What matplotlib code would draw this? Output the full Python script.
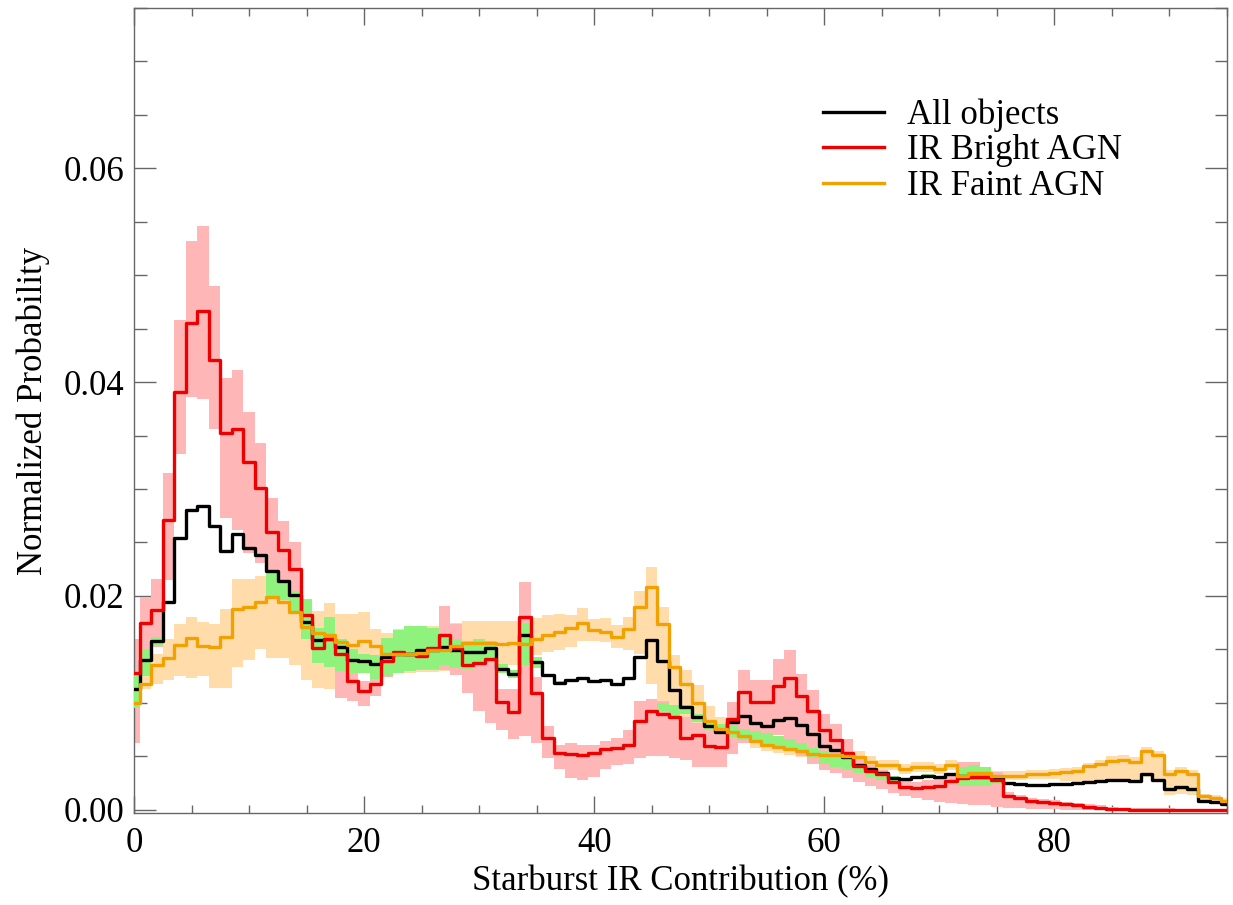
import numpy as np
import matplotlib
matplotlib.use("Agg")
import matplotlib.pyplot as plt
from matplotlib.ticker import MultipleLocator, FormatStrFormatter

# bin centres: starburst contribution in percent, 1% bins
sb_pct = np.arange(96)

all_objects = [
    0.0113, 0.0140, 0.0158, 0.0194, 0.0254, 0.0280, 0.0284, 0.0265, 0.0242, 0.0258,
    0.0245, 0.0238, 0.0223, 0.0214, 0.0201, 0.0176, 0.0159, 0.0160, 0.0152, 0.0140,
    0.0139, 0.0136, 0.0143, 0.0146, 0.0146, 0.0149, 0.0149, 0.0152, 0.0149, 0.0148,
    0.0148, 0.0151, 0.0132, 0.0127, 0.0163, 0.0138, 0.0126, 0.0119, 0.0121, 0.0123,
    0.0120, 0.0121, 0.0118, 0.0123, 0.0143, 0.0159, 0.0139, 0.0112, 0.0096, 0.0087,
    0.0078, 0.0073, 0.0082, 0.0088, 0.0081, 0.0078, 0.0084, 0.0086, 0.0079, 0.0071,
    0.0060, 0.0056, 0.0049, 0.0042, 0.0038, 0.0034, 0.0030, 0.0029, 0.0031, 0.0032,
    0.0031, 0.0033, 0.0032, 0.0031, 0.0031, 0.0030, 0.0025, 0.0024, 0.0023, 0.0023,
    0.0024, 0.0024, 0.0025, 0.0026, 0.0027, 0.0028, 0.0028, 0.0027, 0.0033, 0.0028,
    0.0019, 0.0021, 0.0019, 0.0008, 0.0007, 0.0005]
all_lo = [
    0.0095, 0.0125, 0.0154, 0.0193, 0.0253, 0.0279, 0.0283, 0.0264, 0.0241, 0.0257,
    0.0244, 0.0237, 0.0200, 0.0196, 0.0185, 0.0160, 0.0137, 0.0134, 0.0130, 0.0128,
    0.0128, 0.0122, 0.0125, 0.0128, 0.0130, 0.0132, 0.0132, 0.0135, 0.0133, 0.0132,
    0.0135, 0.0138, 0.0128, 0.0123, 0.0135, 0.0133, 0.0125, 0.0118, 0.0120, 0.0122,
    0.0119, 0.0120, 0.0117, 0.0122, 0.0142, 0.0158, 0.0092, 0.0088, 0.0090, 0.0082,
    0.0075, 0.0071, 0.0068, 0.0065, 0.0062, 0.0061, 0.0058, 0.0055, 0.0052, 0.0048,
    0.0043, 0.0040, 0.0037, 0.0034, 0.0031, 0.0028, 0.0026, 0.0028, 0.0030, 0.0031,
    0.0030, 0.0032, 0.0022, 0.0022, 0.0022, 0.0024, 0.0024, 0.0023, 0.0022, 0.0022,
    0.0023, 0.0023, 0.0024, 0.0025, 0.0026, 0.0027, 0.0027, 0.0026, 0.0032, 0.0027,
    0.0018, 0.0020, 0.0018, 0.0007, 0.0006, 0.0004]
all_hi = [
    0.0128, 0.0150, 0.0162, 0.0195, 0.0255, 0.0281, 0.0285, 0.0266, 0.0243, 0.0259,
    0.0246, 0.0239, 0.0225, 0.0216, 0.0205, 0.0196, 0.0170, 0.0180, 0.0160, 0.0150,
    0.0146, 0.0145, 0.0161, 0.0168, 0.0172, 0.0172, 0.0170, 0.0165, 0.0160, 0.0158,
    0.0160, 0.0158, 0.0136, 0.0131, 0.0175, 0.0143, 0.0127, 0.0120, 0.0122, 0.0124,
    0.0121, 0.0122, 0.0119, 0.0124, 0.0144, 0.0160, 0.0100, 0.0098, 0.0098, 0.0090,
    0.0082, 0.0080, 0.0078, 0.0076, 0.0074, 0.0072, 0.0069, 0.0066, 0.0062, 0.0058,
    0.0055, 0.0053, 0.0050, 0.0044, 0.0040, 0.0036, 0.0032, 0.0030, 0.0032, 0.0033,
    0.0032, 0.0034, 0.0040, 0.0042, 0.0040, 0.0032, 0.0026, 0.0025, 0.0024, 0.0024,
    0.0025, 0.0025, 0.0026, 0.0027, 0.0028, 0.0029, 0.0029, 0.0028, 0.0034, 0.0029,
    0.0020, 0.0022, 0.0020, 0.0009, 0.0008, 0.0006]

ir_bright = [
    0.0128, 0.0175, 0.0187, 0.0271, 0.0391, 0.0455, 0.0467, 0.0421, 0.0352, 0.0356,
    0.0325, 0.0301, 0.0260, 0.0243, 0.0225, 0.0182, 0.0151, 0.0160, 0.0146, 0.0120,
    0.0111, 0.0118, 0.0139, 0.0148, 0.0146, 0.0144, 0.0151, 0.0163, 0.0151, 0.0135,
    0.0137, 0.0141, 0.0101, 0.0091, 0.0180, 0.0109, 0.0067, 0.0053, 0.0052, 0.0051,
    0.0053, 0.0057, 0.0058, 0.0061, 0.0083, 0.0092, 0.0090, 0.0087, 0.0067, 0.0070,
    0.0060, 0.0059, 0.0085, 0.0110, 0.0101, 0.0101, 0.0116, 0.0123, 0.0106, 0.0092,
    0.0075, 0.0065, 0.0053, 0.0041, 0.0036, 0.0033, 0.0026, 0.0021, 0.0020, 0.0021,
    0.0022, 0.0027, 0.0030, 0.0031, 0.0031, 0.0028, 0.0013, 0.0011, 0.0008, 0.0007,
    0.0006, 0.0005, 0.0004, 0.0003, 0.0002, 0.0001, 0.0001, 0.0000, 0.0000, 0.0000,
    0.0000, 0.0000, 0.0000, 0.0000, 0.0000, 0.0000]
bright_lo = [
    0.0062, 0.0140, 0.0152, 0.0215, 0.0333, 0.0386, 0.0384, 0.0356, 0.0273, 0.0262,
    0.0240, 0.0231, 0.0220, 0.0205, 0.0190, 0.0165, 0.0140, 0.0145, 0.0105, 0.0102,
    0.0097, 0.0106, 0.0124, 0.0128, 0.0130, 0.0131, 0.0131, 0.0131, 0.0126, 0.0109,
    0.0092, 0.0081, 0.0075, 0.0066, 0.0069, 0.0062, 0.0048, 0.0038, 0.0030, 0.0028,
    0.0031, 0.0038, 0.0042, 0.0043, 0.0048, 0.0050, 0.0050, 0.0048, 0.0047, 0.0040,
    0.0040, 0.0040, 0.0052, 0.0062, 0.0066, 0.0068, 0.0070, 0.0060, 0.0050, 0.0043,
    0.0037, 0.0034, 0.0030, 0.0026, 0.0022, 0.0019, 0.0016, 0.0013, 0.0011, 0.0009,
    0.0007, 0.0006, 0.0005, 0.0004, 0.0004, 0.0003, 0.0002, 0.0002, 0.0001, 0.0001,
    0.0001, 0.0000, 0.0000, 0.0000, 0.0000, 0.0000, 0.0000, 0.0000, 0.0000, 0.0000,
    0.0000, 0.0000, 0.0000, 0.0000, 0.0000, 0.0000]
bright_hi = [
    0.0160, 0.0199, 0.0216, 0.0315, 0.0458, 0.0532, 0.0546, 0.0490, 0.0404, 0.0411,
    0.0372, 0.0343, 0.0292, 0.0270, 0.0250, 0.0197, 0.0165, 0.0172, 0.0152, 0.0128,
    0.0120, 0.0128, 0.0155, 0.0158, 0.0160, 0.0160, 0.0162, 0.0191, 0.0174, 0.0150,
    0.0148, 0.0150, 0.0113, 0.0113, 0.0213, 0.0124, 0.0078, 0.0061, 0.0062, 0.0061,
    0.0061, 0.0064, 0.0067, 0.0075, 0.0102, 0.0104, 0.0102, 0.0097, 0.0087, 0.0081,
    0.0080, 0.0080, 0.0101, 0.0131, 0.0121, 0.0121, 0.0141, 0.0149, 0.0127, 0.0112,
    0.0090, 0.0080, 0.0066, 0.0050, 0.0042, 0.0037, 0.0032, 0.0027, 0.0026, 0.0028,
    0.0030, 0.0033, 0.0045, 0.0045, 0.0040, 0.0035, 0.0017, 0.0014, 0.0011, 0.0010,
    0.0009, 0.0007, 0.0006, 0.0005, 0.0004, 0.0003, 0.0002, 0.0002, 0.0002, 0.0002,
    0.0002, 0.0001, 0.0001, 0.0001, 0.0001, 0.0001]

ir_faint = [
    0.0100, 0.0118, 0.0135, 0.0142, 0.0154, 0.0161, 0.0153, 0.0152, 0.0162, 0.0188,
    0.0190, 0.0194, 0.0199, 0.0194, 0.0185, 0.0171, 0.0165, 0.0163, 0.0157, 0.0154,
    0.0158, 0.0153, 0.0146, 0.0146, 0.0146, 0.0147, 0.0149, 0.0149, 0.0153, 0.0156,
    0.0156, 0.0156, 0.0155, 0.0156, 0.0155, 0.0160, 0.0163, 0.0166, 0.0170, 0.0175,
    0.0168, 0.0166, 0.0162, 0.0169, 0.0190, 0.0208, 0.0174, 0.0134, 0.0118, 0.0100,
    0.0083, 0.0076, 0.0073, 0.0069, 0.0064, 0.0061, 0.0059, 0.0057, 0.0055, 0.0052,
    0.0051, 0.0051, 0.0050, 0.0049, 0.0045, 0.0042, 0.0042, 0.0038, 0.0040, 0.0040,
    0.0038, 0.0042, 0.0032, 0.0034, 0.0034, 0.0032, 0.0032, 0.0032, 0.0033, 0.0033,
    0.0034, 0.0035, 0.0036, 0.0041, 0.0043, 0.0046, 0.0047, 0.0045, 0.0055, 0.0051,
    0.0033, 0.0036, 0.0033, 0.0013, 0.0011, 0.0008]
faint_lo = [
    0.0088, 0.0113, 0.0118, 0.0121, 0.0125, 0.0123, 0.0125, 0.0114, 0.0114, 0.0134,
    0.0140, 0.0150, 0.0142, 0.0142, 0.0135, 0.0121, 0.0114, 0.0113, 0.0111, 0.0121,
    0.0130, 0.0129, 0.0128, 0.0128, 0.0128, 0.0129, 0.0129, 0.0130, 0.0130, 0.0131,
    0.0131, 0.0132, 0.0134, 0.0135, 0.0143, 0.0145, 0.0148, 0.0149, 0.0152, 0.0158,
    0.0158, 0.0157, 0.0151, 0.0149, 0.0146, 0.0118, 0.0092, 0.0087, 0.0080, 0.0073,
    0.0068, 0.0064, 0.0062, 0.0062, 0.0058, 0.0055, 0.0053, 0.0051, 0.0049, 0.0046,
    0.0045, 0.0045, 0.0044, 0.0043, 0.0040, 0.0037, 0.0037, 0.0033, 0.0035, 0.0035,
    0.0033, 0.0037, 0.0028, 0.0030, 0.0030, 0.0028, 0.0028, 0.0028, 0.0029, 0.0029,
    0.0029, 0.0027, 0.0026, 0.0026, 0.0026, 0.0027, 0.0027, 0.0027, 0.0031, 0.0028,
    0.0014, 0.0015, 0.0014, 0.0006, 0.0005, 0.0004]
faint_hi = [
    0.0115, 0.0140, 0.0146, 0.0160, 0.0174, 0.0180, 0.0176, 0.0174, 0.0188, 0.0216,
    0.0216, 0.0219, 0.0220, 0.0218, 0.0208, 0.0197, 0.0186, 0.0193, 0.0183, 0.0183,
    0.0185, 0.0169, 0.0165, 0.0169, 0.0169, 0.0170, 0.0172, 0.0174, 0.0175, 0.0177,
    0.0177, 0.0177, 0.0177, 0.0177, 0.0177, 0.0179, 0.0182, 0.0183, 0.0182, 0.0189,
    0.0178, 0.0179, 0.0173, 0.0180, 0.0205, 0.0227, 0.0190, 0.0145, 0.0131, 0.0117,
    0.0097, 0.0087, 0.0080, 0.0075, 0.0070, 0.0067, 0.0065, 0.0063, 0.0061, 0.0058,
    0.0057, 0.0057, 0.0056, 0.0055, 0.0050, 0.0047, 0.0047, 0.0043, 0.0045, 0.0045,
    0.0043, 0.0047, 0.0036, 0.0038, 0.0038, 0.0036, 0.0036, 0.0036, 0.0037, 0.0037,
    0.0038, 0.0039, 0.0040, 0.0044, 0.0047, 0.0050, 0.0051, 0.0049, 0.0059, 0.0055,
    0.0037, 0.0040, 0.0037, 0.0015, 0.0014, 0.0011]

plt.rcParams['font.family'] = ['Liberation Serif', 'DejaVu Serif']
plt.rcParams['font.size'] = 25

fig = plt.figure(figsize=(12.33, 9.05), dpi=100)
ax = fig.add_axes([0.1087, 0.1017, 0.8864, 0.8895])

# uncertainty bands
ax.fill_between(sb_pct, faint_lo, faint_hi, step='mid', color='#ffdcaa', lw=0, zorder=1)
ax.fill_between(sb_pct, bright_lo, bright_hi, step='mid', color='#ffb6b6', lw=0, zorder=2)
ax.fill_between(sb_pct, all_lo, all_hi, step='mid', color='#8ef27c', lw=0, zorder=3)

# histograms
ax.step(sb_pct, all_objects, where='mid', color='black', lw=2.4, zorder=4, label='All objects')
ax.step(sb_pct, ir_bright, where='mid', color='#ee0000', lw=2.4, zorder=5, label='IR Bright AGN')
ax.step(sb_pct, ir_faint, where='mid', color='#f2a200', lw=2.4, zorder=6, label='IR Faint AGN')

ax.set_xlim(0, 95)
ax.set_ylim(-0.0003, 0.075)

ax.xaxis.set_major_locator(MultipleLocator(20))
ax.xaxis.set_minor_locator(MultipleLocator(5))
ax.yaxis.set_major_locator(MultipleLocator(0.02))
ax.yaxis.set_minor_locator(MultipleLocator(0.005))
ax.yaxis.set_major_formatter(FormatStrFormatter('%.2f'))

axis_grey = '#666666'
for sp in ax.spines.values():
    sp.set_color(axis_grey)
    sp.set_linewidth(1.0)
ax.tick_params(which='both', direction='in', top=True, right=True, color=axis_grey, width=1.0)
ax.tick_params(axis='x', which='major', length=12, pad=10)
ax.tick_params(axis='x', which='minor', length=6)
ax.tick_params(axis='y', which='major', length=16, pad=7)
ax.tick_params(axis='y', which='minor', length=9)

ax.set_xlabel('Starburst IR Contribution (%)', labelpad=4)
ax.set_ylabel('Normalized Probability', labelpad=10)

ax.legend(loc='upper left', bbox_to_anchor=(0.618, 0.905), frameon=False,
          handlelength=1.75, handletextpad=0.65, labelspacing=0.07, borderaxespad=0)

fig.savefig('out.png', dpi=100)
